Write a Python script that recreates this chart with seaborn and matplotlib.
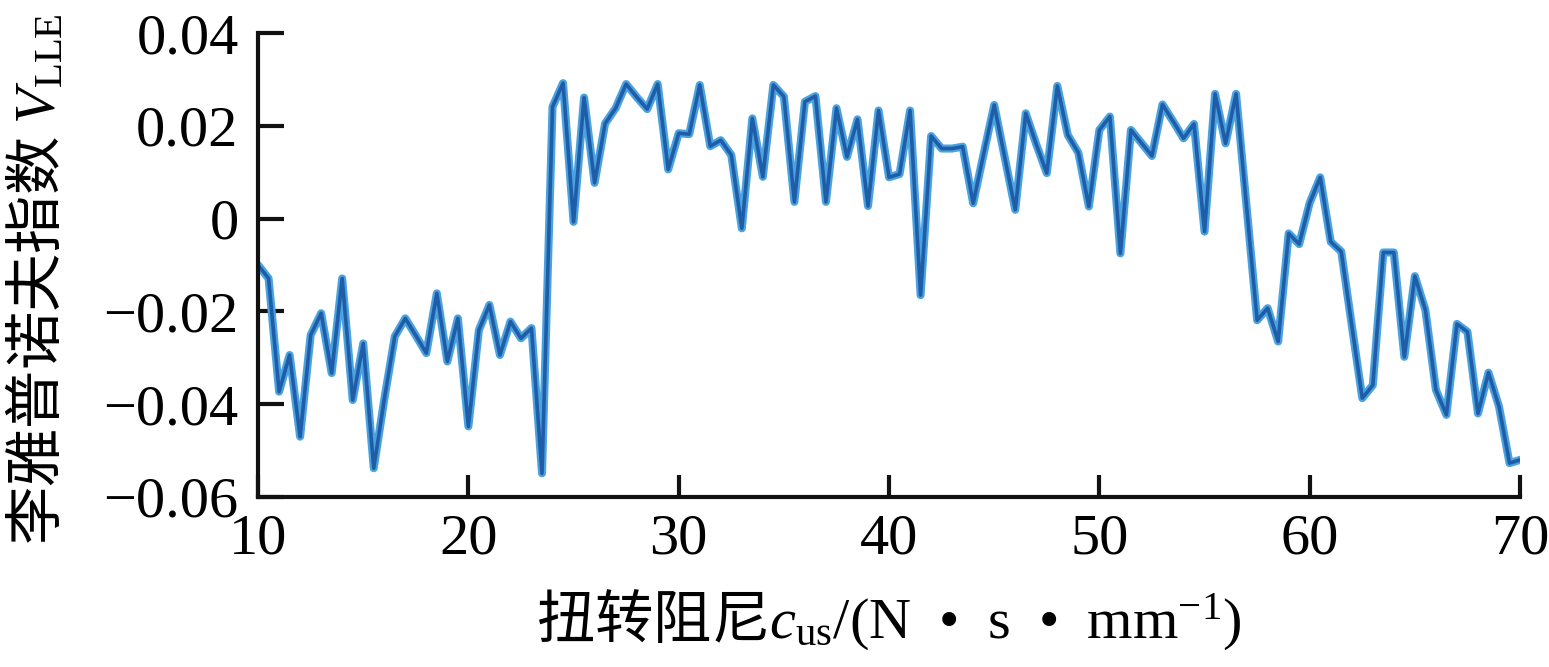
import numpy as np
import pandas as pd
import matplotlib
matplotlib.use("Agg")
import matplotlib.pyplot as plt
import seaborn as sns

# torsional damping grid (N*s/mm) and largest Lyapunov exponent
cus = np.arange(10, 70.01, 0.5)
v_lle = [
    -0.0100, -0.0129, -0.0373, -0.0294, -0.0470, -0.0251, -0.0204, -0.0333,
    -0.0129, -0.0391, -0.0269, -0.0538, -0.0390, -0.0254, -0.0215, -0.0252,
    -0.0290, -0.0161, -0.0308, -0.0215, -0.0448, -0.0240, -0.0186, -0.0294,
    -0.0222, -0.0258, -0.0236, -0.0549, 0.0241, 0.0292, -0.0007, 0.0261,
    0.0077, 0.0205, 0.0238, 0.0290, 0.0262, 0.0236, 0.0290, 0.0106,
    0.0184, 0.0182, 0.0288, 0.0156, 0.0169, 0.0137, -0.0021, 0.0216,
    0.0090, 0.0288, 0.0263, 0.0036, 0.0252, 0.0264, 0.0036, 0.0238,
    0.0133, 0.0214, 0.0027, 0.0233, 0.0089, 0.0096, 0.0233, -0.0165,
    0.0178, 0.0151, 0.0151, 0.0155, 0.0033, 0.0140, 0.0245, 0.0132,
    0.0019, 0.0227, 0.0160, 0.0098, 0.0286, 0.0180, 0.0142, 0.0026,
    0.0191, 0.0220, -0.0075, 0.0191, 0.0163, 0.0135, 0.0246, 0.0210,
    0.0173, 0.0204, -0.0028, 0.0269, 0.0162, 0.0269, 0.0025, -0.0219,
    -0.0193, -0.0265, -0.0032, -0.0055, 0.0034, 0.0089, -0.0050, -0.0071,
    -0.0230, -0.0387, -0.0359, -0.0073, -0.0073, -0.0298, -0.0124, -0.0197,
    -0.0369, -0.0423, -0.0227, -0.0244, -0.0420, -0.0332, -0.0405, -0.0527,
    -0.0520,
]
x_ticks = [10, 20, 30, 40, 50, 60, 70]
y_ticks = [-0.06, -0.04, -0.02, 0, 0.02, 0.04]
y_ticklabels = ["\u22120.06", "\u22120.04", "\u22120.02", "0", "0.02", "0.04"]

df = pd.DataFrame({"cus": cus, "lle": v_lle})

sns.set_style("ticks")
plt.rcParams["font.family"] = ["Liberation Serif", "Noto Sans CJK SC"]
plt.rcParams["mathtext.fontset"] = "custom"
plt.rcParams["mathtext.rm"] = "Liberation Serif"
plt.rcParams["mathtext.it"] = "Liberation Serif:italic"
plt.rcParams["text.color"] = "black"
plt.rcParams["axes.labelcolor"] = "black"
plt.rcParams["xtick.color"] = "black"
plt.rcParams["ytick.color"] = "black"

fig = plt.figure(figsize=(15.49, 6.67), dpi=100)
ax = fig.add_axes([0.1666, 0.2549, 0.8147, 0.6956])

sns.lineplot(data=df, x="cus", y="lle", ax=ax, color="#4aa2de", linewidth=5.8)
sns.lineplot(data=df, x="cus", y="lle", ax=ax, color="#1f5da8", linewidth=2.6)

ax.set_xlim(10, 70)
ax.set_ylim(-0.06, 0.04)
ax.set_xticks(x_ticks)
ax.set_yticks(y_ticks)
ax.set_yticklabels(y_ticklabels)

sns.despine(ax=ax)
for s in ["left", "bottom"]:
    ax.spines[s].set_linewidth(3)
    ax.spines[s].set_color("#111111")
ax.tick_params(axis="y", direction="in", length=19, width=3, pad=14,
               labelsize=42, color="#111111")
ax.tick_params(axis="x", direction="in", length=16, width=3, pad=12,
               labelsize=42, color="#111111")

# CJK as the base font, Latin parts in serif mathtext
ax.set_xlabel("扭转阻尼$c_{\\mathrm{us}}\\mathrm{/(N\\ \\ \u2022\\ \\ s\\ \\ \u2022\\ \\ mm}^{\\mathrm{-1}}\\mathrm{)}$",
              fontsize=42, labelpad=16, family="Noto Sans CJK SC")
ax.set_ylabel("李雅普诺夫指数 $V_{\\mathrm{LLE}}$", fontsize=42,
              family="Noto Sans CJK SC")
ax.yaxis.set_label_coords(-0.150, 0.47)

fig.savefig("out.png", dpi=100)
